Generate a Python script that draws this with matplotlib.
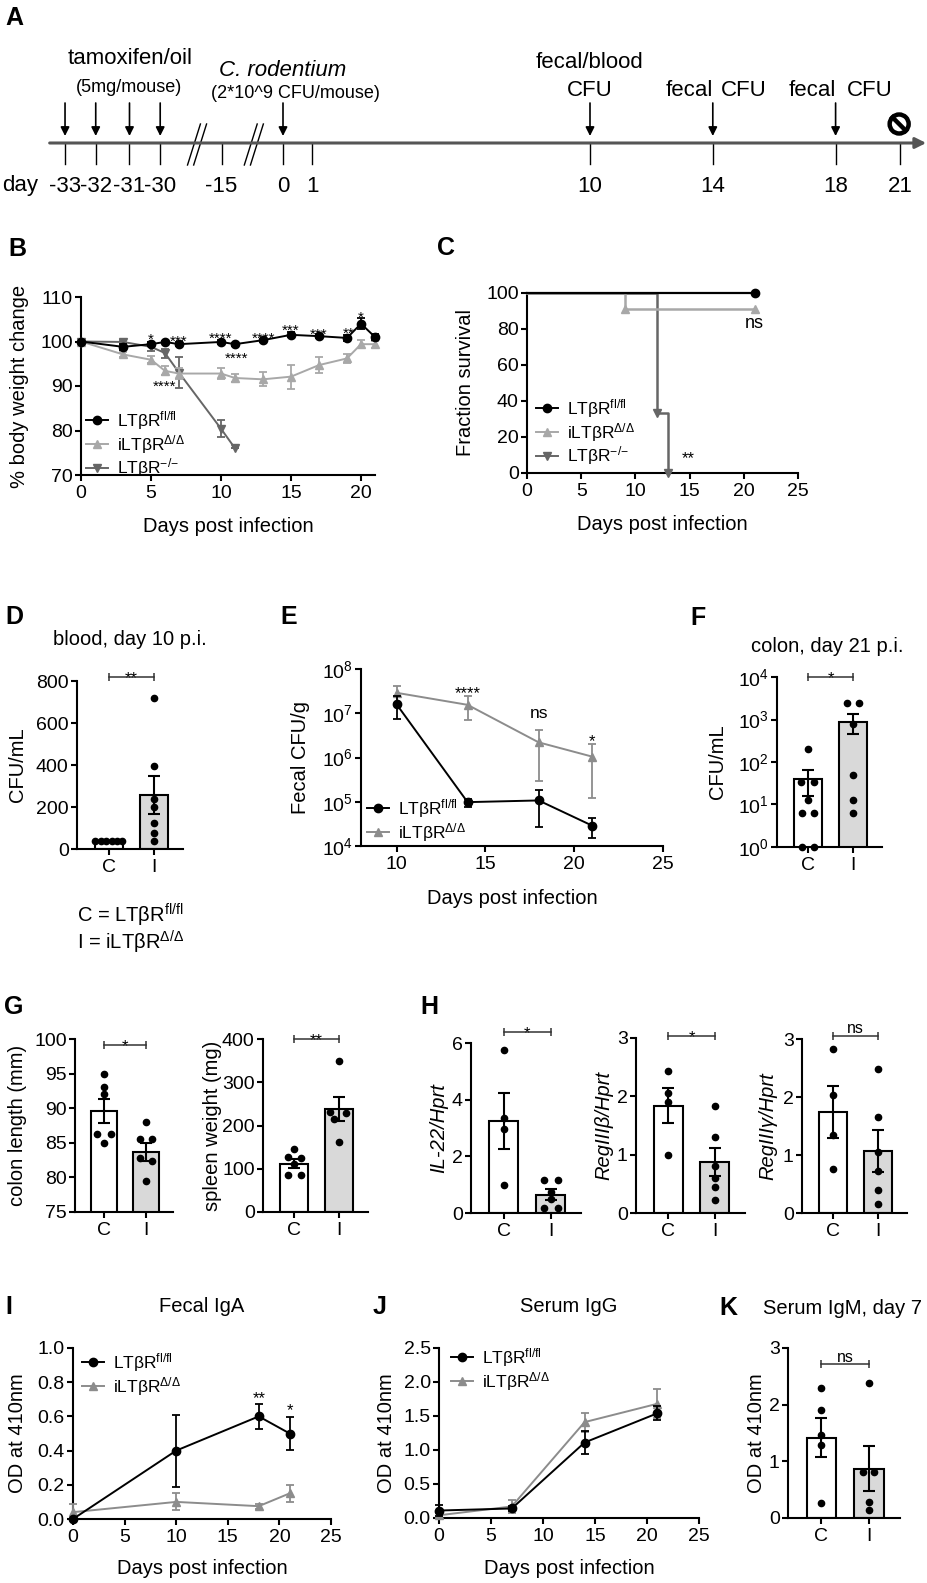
import numpy as np
import matplotlib
matplotlib.use('Agg')
import matplotlib.pyplot as plt
from matplotlib.lines import Line2D
from matplotlib.patches import Ellipse
from matplotlib.ticker import FixedLocator, NullLocator, FormatStrFormatter, FixedFormatter

plt.rcParams['font.family'] = ['Liberation Sans', 'DejaVu Sans']
plt.rcParams['mathtext.fontset'] = 'custom'
plt.rcParams['mathtext.rm'] = 'Liberation Sans'
plt.rcParams['mathtext.it'] = 'Liberation Sans:italic'
plt.rcParams['mathtext.bf'] = 'Liberation Sans:bold'
plt.rcParams['mathtext.sf'] = 'Liberation Sans'
plt.rcParams['axes.linewidth'] = 1.5
plt.rcParams['xtick.major.width'] = 1.5
plt.rcParams['ytick.major.width'] = 1.5
plt.rcParams['xtick.major.size'] = 4
plt.rcParams['ytick.major.size'] = 4
plt.rcParams['xtick.labelsize'] = 14
plt.rcParams['ytick.labelsize'] = 14
plt.rcParams['xtick.major.pad'] = 3
plt.rcParams['ytick.major.pad'] = 2

# ======================= DATA =======================
LAB_FL = 'LTβR$^{\\mathrm{fl/fl}}$'
LAB_I = 'iLTβR$^{\\Delta/\\Delta}$'
LAB_KO = 'LTβR$^{{-}/{-}}$'

# A: timeline
tl_labels = ['-33', '-32', '-31', '-30', '-15', '0', '1', '10', '14', '18', '21']
arrow_labels = ['-33', '-32', '-31', '-30', '0', '10', '14', '18']

# B: body weight (% of day 0)
days_B = [0, 3, 5, 6, 7, 10, 11, 13, 15, 17, 19, 20, 21]
bw_fl = [100, 98.8, 99.4, 99.9, 99.4, 99.9, 99.4, 100.3, 101.5, 101.2, 100.8, 104.0, 101.0]
bw_fl_sem = [0, 0.6, 0.4, 0.3, 0.4, 0.5, 0.3, 0.3, 0.6, 0.4, 0.7, 1.2, 0.7]
bw_i = [100, 97.1, 95.9, 93.4, 92.8, 92.8, 91.8, 91.5, 92.1, 94.7, 96.2, 99.4, 99.4]
bw_i_sem = [0, 0.5, 0.8, 1.0, 1.2, 1.3, 0.9, 1.6, 2.7, 1.8, 1.1, 0.9, 0.8]
days_B_ko = [0, 3, 5, 6, 7, 10, 11]
bw_ko = [100, 99.9, 98.8, 97.4, 93.0, 80.4, 76.0]
bw_ko_sem = [0, 0.5, 1.0, 1.0, 3.5, 1.9, 0]
stars_B_x = [5, 7, 10, 11.1, 6.0, 13.05, 15, 17, 19.1, 20]
stars_B_y = [101.4, 101.0, 101.8, 97.1, 90.9, 101.8, 103.4, 102.7, 102.9, 106.4]
stars_B_t = ['*', '***', '****', '****', '****', '****', '***', '***', '**', '*']

# C: survival
surv_t_fl = [0, 21]
surv_fl = [100, 100]
surv_t_i = [0, 9, 21]
surv_i = [100, 90.9, 90.9]
surv_t_ko = [0, 12, 13]
surv_ko = [100, 33.3, 0]

# D: blood CFU day 10
blood_mean = [40, 256]
blood_sem = [0, 90]
blood_C = [38, 38, 38, 38, 38, 38]
blood_I = [718, 397, 240, 200, 122, 78, 39]

# E: fecal CFU
days_E = [10, 14, 18, 21]
cfu_fl = [1.6e7, 9.8e4, 1.07e5, 2.9e4]
cfu_fl_sem = [0.85e7, 0.2e5, 0.8e5, 1.4e4]
cfu_i = [2.9e7, 1.55e7, 2.2e6, 1.05e6]
cfu_i_sem = [1.2e7, 0.85e7, 1.9e6, 0.93e6]
stars_E_x = [14, 18, 21]
stars_E_y = [3.7e7, 1.0e7, 3.0e6]
stars_E_t = ['****', 'ns', '*']

# F: colon CFU day 21
colon_mean = [40, 890]
colon_sem = [24, 430]
colon_C = [205, 33, 33, 12.6, 6.2, 6.2, 1, 1]
colon_I = [2500, 2400, 800, 50, 12.6, 6.3]

# G
clen_mean = [89.6, 83.6]
clen_sem = [1.8, 1.3]
clen_C = [95, 93, 92, 86.3, 86.3, 85]
clen_I = [88, 85.5, 85.5, 82.8, 82.3, 79.5]
spl_mean = [112, 238]
spl_sem = [10, 27]
spl_C = [145, 127, 124, 112, 85, 85]
spl_I = [350, 232, 230, 215, 163]

# H
il22_mean = [3.24, 0.65]
il22_sem = [0.98, 0.2]
il22_C = [5.76, 3.35, 2.98, 1.0]
il22_I = [1.15, 1.15, 0.75, 0.5, 0.18, 0.18]
regb_mean = [1.84, 0.87]
regb_sem = [0.3, 0.24]
regb_C = [2.43, 2.06, 1.91, 1.0]
regb_I = [1.83, 1.31, 0.81, 0.6, 0.45, 0.23]
regg_mean = [1.74, 1.07]
regg_sem = [0.45, 0.36]
regg_C = [2.83, 2.03, 1.34, 0.76]
regg_I = [2.49, 1.65, 1.05, 0.72, 0.40, 0.16]

# I: fecal IgA
days_I = [0, 10, 18, 21]
iga_fl = [0.0, 0.40, 0.60, 0.50]
iga_fl_sem = [0, 0.21, 0.075, 0.097]
iga_i = [0.04, 0.10, 0.075, 0.15]
iga_i_sem = [0.05, 0.05, 0.015, 0.05]

# J: serum IgG
days_J = [0, 7, 14, 21]
igg_fl = [0.11, 0.14, 1.11, 1.54]
igg_fl_sem = [0.08, 0.04, 0.17, 0.10]
igg_i = [0.04, 0.17, 1.41, 1.68]
igg_i_sem = [0.04, 0.10, 0.14, 0.21]

# K: serum IgM day 7
igm_mean = [1.42, 0.87]
igm_sem = [0.35, 0.40]
igm_C = [2.29, 1.90, 1.46, 1.29, 0.27]
igm_I = [2.39, 0.82, 0.82, 0.28, 0.15]

# ======================= LAYOUT / STYLE =======================
W, H = 927, 1583
fig = plt.figure(figsize=(W / 100, H / 100), dpi=100)
BLACK = '#000000'
LGREY = '#a8a8a8'
DGREY = '#666666'
MGREY = '#8c8c8c'
BARGREY = '#d9d9d9'
FS_LAB = 14.5
FS_LEG = 12.5


def fx(x):
    return x / W


def fy(y):
    return 1 - y / H


def axes_px(l, r, t, b):
    ax = fig.add_axes([l / W, 1 - b / H, (r - l) / W, (b - t) / H])
    ax.spines['top'].set_visible(False)
    ax.spines['right'].set_visible(False)
    return ax


def letter(x, y, s):
    fig.text(fx(x), fy(y), s, fontsize=18, fontweight='bold', ha='center', va='center')


def ylab(x, ax, s, **kw):
    bb = ax.get_position()
    fig.text(fx(x), (bb.y0 + bb.y1) / 2, s, rotation=90, ha='center', va='center', fontsize=FS_LAB, **kw)


def xlab(y, ax, s):
    bb = ax.get_position()
    fig.text((bb.x0 + bb.x1) / 2, fy(y), s, ha='center', va='center', fontsize=FS_LAB)


def star(ax, x, y, s, fs=11.5):
    off = -0.58 * fs if s.startswith('*') else -0.27 * fs
    ax.annotate(s, xy=(x, y), xytext=(0, off), textcoords='offset points',
                ha='center', va='baseline', fontsize=fs, annotation_clip=False)


def bracket(ax, y, s, fs=12):
    ax.plot([0, 1], [y, y], color='#333333', lw=1.1, marker='|', ms=6, mew=1.1,
            clip_on=False, zorder=5)
    off = -4.5 if s.startswith('*') else 1.5
    ax.annotate(s, xy=(0.5, y), xytext=(0, off), textcoords='offset points',
                ha='center', va='baseline', fontsize=fs, annotation_clip=False)


def legend(ax, handles, labels, x, y):
    ax.legend(handles, labels, loc='upper left', bbox_to_anchor=(fx(x), fy(y)),
              bbox_transform=fig.transFigure, frameon=False, borderpad=0,
              borderaxespad=0, handlelength=1.25, handletextpad=0.55,
              labelspacing=0.05, fontsize=FS_LEG)


def h(color, marker, ms=6):
    return Line2D([], [], color=color, marker=marker, ms=ms, lw=1.4)


def bar_panel(ax, means, sems, dotsC, dotsI, offC, offI, log=False):
    if log:
        ax.set_yscale('log')
    ax.bar([0, 1], means, width=0.62, color=['white', BARGREY], edgecolor='k',
           linewidth=1.5, zorder=1)
    ax.errorbar([0, 1], means, yerr=sems, fmt='none', ecolor='k', elinewidth=1.5,
                capsize=4.5, capthick=1.5, zorder=3)
    ax.plot(0 + np.array(offC), dotsC, 'o', color='k', ms=4.5, zorder=4, clip_on=False)
    ax.plot(1 + np.array(offI), dotsI, 'o', color='k', ms=4.5, zorder=4, clip_on=False)
    ax.set_xlim(-0.7, 1.65)
    ax.set_xticks([0, 1])
    ax.set_xticklabels(['C', 'I'])


def line_err(ax, x, y, e, color, marker, ms=6, cs=3, z=3):
    ax.errorbar(x, y, yerr=e, color=color, marker=marker, ms=ms, lw=1.4,
                elinewidth=1.3, capsize=cs, capthick=1.3, clip_on=False, zorder=z)


# ---------------- A: timeline ----------------
tl_pos = [-7.1, -6.1, -5.0, -4.0, -2.0, 0, 0.95, 10, 14, 18, 20.1]
pos_of = dict(zip(tl_labels, tl_pos))
PX = 30.7
axA = fig.add_axes([0, fy(205), 1, 205 / H])
axA.set_xlim(-283 / PX, (W - 283) / PX)
axA.set_ylim(205, 0)
axA.axis('off')
axA.annotate('', xy=(20.95, 143), xytext=(-7.6, 143),
             arrowprops=dict(arrowstyle='-|>', color='#555555', lw=2.2, mutation_scale=16,
                             shrinkA=0, shrinkB=0))
for lab in tl_labels:
    p = pos_of[lab]
    axA.plot([p, p], [143, 164], color='k', lw=1)
    axA.text(p, 186, lab, ha='center', va='center', fontsize=16)
axA.text(-8.55, 186, 'day', ha='center', va='center', fontsize=16)
for lab in arrow_labels:
    p = pos_of[lab]
    axA.annotate('', xy=(p, 136), xytext=(p, 103),
                 arrowprops=dict(arrowstyle='-|>', color='k', lw=1.2, mutation_scale=13,
                                 shrinkA=0, shrinkB=0))
for bx in [-2.8, -0.95]:
    for d in [-0.1, 0.1]:
        axA.plot([bx + d - 0.21, bx + d + 0.21], [165, 124], color='k', lw=1)
axA.add_patch(Ellipse((20.07, 124), width=19 / PX, height=19, fill=False, lw=3.2, color='k'))
axA.plot([20.07 - 6.5 / PX, 20.07 + 6.5 / PX], [117.5, 130.5], color='k', lw=3.2)
axA.text(-4.98, 58, 'tamoxifen/oil', ha='center', va='center', fontsize=16)
axA.text(-5.0, 87, '(5mg/mouse)', ha='center', va='center', fontsize=13)
axA.text(0.0, 70, 'C. rodentium', ha='center', va='center', fontsize=16, style='italic')
axA.text(0.42, 94, '(2*10^9 CFU/mouse)', ha='center', va='center', fontsize=13)
axA.text(10, 63, 'fecal/blood', ha='center', va='center', fontsize=16)
axA.text(10, 90, 'CFU', ha='center', va='center', fontsize=16)
axA.text(13.25, 90, 'fecal', ha='center', va='center', fontsize=16)
axA.text(15.0, 90, 'CFU', ha='center', va='center', fontsize=16)
axA.text(17.25, 90, 'fecal', ha='center', va='center', fontsize=16)
axA.text(19.1, 90, 'CFU', ha='center', va='center', fontsize=16)
letter(14, 18, 'A')

# ---------------- B ----------------
axB = axes_px(81, 375, 297, 475)
line_err(axB, days_B_ko, bw_ko, bw_ko_sem, DGREY, 'v', z=3)
line_err(axB, days_B, bw_i, bw_i_sem, LGREY, '^', z=4)
line_err(axB, days_B, bw_fl, bw_fl_sem, BLACK, 'o', z=5)
axB.set_xlim(0, 21)
axB.set_ylim(70, 110)
axB.set_xticks([0, 5, 10, 15, 20])
axB.set_yticks([70, 80, 90, 100, 110])
for x, y, t in zip(stars_B_x, stars_B_y, stars_B_t):
    star(axB, x, y, t, fs=11)
legend(axB, [h(BLACK, 'o'), h(LGREY, '^'), h(DGREY, 'v')], [LAB_FL, LAB_I, LAB_KO], 86, 409)
ylab(20, axB, '% body weight change')
xlab(527, axB, 'Days post infection')
letter(17, 249, 'B')

# ---------------- C ----------------
axC = axes_px(527, 798, 293, 473)
axC.step(surv_t_ko, surv_ko, where='post', color=DGREY, lw=1.8, zorder=3, clip_on=False)
axC.plot(surv_t_ko[1:], surv_ko[1:], 'v', color=DGREY, ms=6, zorder=3, clip_on=False)
axC.step(surv_t_i, surv_i, where='post', color=LGREY, lw=1.8, zorder=4, clip_on=False)
axC.plot(surv_t_i[1:], surv_i[1:], '^', color=LGREY, ms=6, zorder=4, clip_on=False)
axC.step(surv_t_fl, surv_fl, where='post', color=BLACK, lw=1.6, zorder=5, clip_on=False)
axC.plot(surv_t_fl[1:], surv_fl[1:], 'o', color=BLACK, ms=6, zorder=5, clip_on=False)
axC.set_xlim(0, 25)
axC.set_ylim(0, 100)
axC.set_xticks([0, 5, 10, 15, 20, 25])
axC.set_yticks([0, 20, 40, 60, 80, 100])
star(axC, 21, 83.3, 'ns', fs=13)
star(axC, 14.85, 11.1, '**', fs=12)
legend(axC, [h(BLACK, 'o'), h(LGREY, '^'), h(DGREY, 'v')], [LAB_FL, LAB_I, LAB_KO], 536, 397)
ylab(465, axC, 'Fraction survival')
xlab(525, axC, 'Days post infection')
letter(446, 248, 'C')

# ---------------- D ----------------
axD = axes_px(77, 183, 681, 849)
bar_panel(axD, blood_mean, blood_sem, blood_C, blood_I,
          [-0.29, -0.17, -0.05, 0.07, 0.18, 0.29], [0, 0, 0, 0, 0, 0, 0])
axD.set_ylim(0, 800)
axD.set_yticks([0, 200, 400, 600, 800])
bracket(axD, 820, '**')
ylab(18, axD, 'CFU/mL')
fig.text(fx(130), fy(640), 'blood, day 10 p.i.', ha='center', va='center', fontsize=FS_LAB)
fig.text(fx(77), fy(915), 'C = ' + LAB_FL, ha='left', va='center', fontsize=FS_LAB)
fig.text(fx(77), fy(942), 'I = ' + LAB_I, ha='left', va='center', fontsize=FS_LAB)
letter(14, 617, 'D')

# ---------------- E ----------------
axE = axes_px(361, 663, 669, 846)
axE.set_yscale('log')
line_err(axE, days_E, cfu_i, cfu_i_sem, MGREY, '^', z=3)
line_err(axE, days_E, cfu_fl, cfu_fl_sem, BLACK, 'o', z=4)
axE.set_xlim(8, 25)
axE.set_ylim(1e4, 1e8)
axE.set_xticks([10, 15, 20, 25])
axE.yaxis.set_major_locator(FixedLocator([1e4, 1e5, 1e6, 1e7, 1e8]))
axE.yaxis.set_major_formatter(FixedFormatter(['$10^{4}$', '$10^{5}$', '$10^{6}$', '$10^{7}$', '$10^{8}$']))
axE.yaxis.set_minor_locator(NullLocator())
for x, y, t in zip(stars_E_x, stars_E_y, stars_E_t):
    star(axE, x, y, t, fs=12.5 if t == 'ns' else 12)
legend(axE, [h(BLACK, 'o'), h(MGREY, '^')], [LAB_FL, LAB_I], 367, 797)
ylab(300, axE, 'Fecal CFU/g')
xlab(898, axE, 'Days post infection')
letter(289, 617, 'E')

# ---------------- F ----------------
axF = axes_px(777, 882, 677, 847)
bar_panel(axF, colon_mean, colon_sem, colon_C, colon_I,
          [0, -0.16, 0.12, 0, -0.14, 0.12, -0.14, 0.12], [-0.14, 0.13, 0, 0, 0, 0], log=True)
axF.set_ylim(1, 1e4)
axF.yaxis.set_major_locator(FixedLocator([1, 10, 100, 1e3, 1e4]))
axF.yaxis.set_major_formatter(FixedFormatter(['$10^{0}$', '$10^{1}$', '$10^{2}$', '$10^{3}$', '$10^{4}$']))
axF.yaxis.set_minor_locator(NullLocator())
bracket(axF, 1e4, '*')
ylab(717, axF, 'CFU/mL')
fig.text(fx(827), fy(647), 'colon, day 21 p.i.', ha='center', va='center', fontsize=FS_LAB)
letter(698, 618, 'F')

# ---------------- G ----------------
axG1 = axes_px(75, 173, 1039, 1212)
bar_panel(axG1, clen_mean, clen_sem, clen_C, clen_I,
          [0, 0, 0, -0.17, 0.17, 0], [0, -0.15, 0.15, -0.15, 0.15, 0])
axG1.set_ylim(75, 100)
axG1.set_yticks([75, 80, 85, 90, 95, 100])
bracket(axG1, 99.1, '*')
ylab(18, axG1, 'colon length (mm)')

axG2 = axes_px(263, 368, 1039, 1212)
bar_panel(axG2, spl_mean, spl_sem, spl_C, spl_I,
          [0, -0.15, 0.15, 0, -0.15, 0.15], [0, -0.19, 0.15, -0.11, 0])
axG2.set_ylim(0, 400)
axG2.set_yticks([0, 100, 200, 300, 400])
bracket(axG2, 400, '**')
ylab(213, axG2, 'spleen weight (mg)')
letter(14, 1007, 'G')

# ---------------- H ----------------
axH1 = axes_px(471, 581, 1043, 1213)
bar_panel(axH1, il22_mean, il22_sem, il22_C, il22_I,
          [0, 0, 0, 0], [-0.15, 0.15, 0, 0, -0.15, 0.15])
axH1.set_ylim(0, 6)
axH1.set_yticks([0, 2, 4, 6])
bracket(axH1, 6.4, '*')
ylab(439, axH1, 'IL-22/Hprt', style='italic')

axH2 = axes_px(636, 745, 1038, 1213)
bar_panel(axH2, regb_mean, regb_sem, regb_C, regb_I,
          [0, 0, 0, 0], [0, 0, 0, 0, 0, 0])
axH2.set_ylim(0, 3)
axH2.set_yticks([0, 1, 2, 3])
bracket(axH2, 3.03, '*')
ylab(604, axH2, 'RegIIIβ/Hprt', style='italic')

axH3 = axes_px(802, 907, 1039, 1213)
bar_panel(axH3, regg_mean, regg_sem, regg_C, regg_I,
          [0, 0, 0, 0], [0, 0, 0, 0, 0, 0])
axH3.set_ylim(0, 3)
axH3.set_yticks([0, 1, 2, 3])
bracket(axH3, 3.06, 'ns', fs=11.5)
ylab(768, axH3, 'RegIIIγ/Hprt', style='italic')
letter(429, 1007, 'H')

# ---------------- I ----------------
axI = axes_px(73, 331, 1348, 1519)
line_err(axI, days_I, iga_i, iga_i_sem, MGREY, '^', z=3)
line_err(axI, days_I, iga_fl, iga_fl_sem, BLACK, 'o', z=4)
axI.set_xlim(0, 25)
axI.set_ylim(0, 1.0)
axI.set_xticks([0, 5, 10, 15, 20, 25])
axI.set_yticks([0, 0.2, 0.4, 0.6, 0.8, 1.0])
axI.yaxis.set_major_formatter(FormatStrFormatter('%.1f'))
star(axI, 18, 0.734, '**', fs=12)
star(axI, 21, 0.666, '*', fs=12)
legend(axI, [h(BLACK, 'o'), h(MGREY, '^')], [LAB_FL, LAB_I], 82, 1351)
ylab(18, axI, 'OD at 410nm')
xlab(1569, axI, 'Days post infection')
fig.text(fx(202), fy(1307), 'Fecal IgA', ha='center', va='center', fontsize=FS_LAB)
letter(9, 1307, 'I')

# ---------------- J ----------------
axJ = axes_px(439, 699, 1348, 1518)
line_err(axJ, days_J, igg_i, igg_i_sem, MGREY, '^', z=3)
line_err(axJ, days_J, igg_fl, igg_fl_sem, BLACK, 'o', z=4)
axJ.set_xlim(0, 25)
axJ.set_ylim(0, 2.5)
axJ.set_xticks([0, 5, 10, 15, 20, 25])
axJ.set_yticks([0, 0.5, 1.0, 1.5, 2.0, 2.5])
axJ.yaxis.set_major_formatter(FormatStrFormatter('%.1f'))
legend(axJ, [h(BLACK, 'o'), h(MGREY, '^')], [LAB_FL, LAB_I], 451, 1346)
ylab(387, axJ, 'OD at 410nm')
xlab(1569, axJ, 'Days post infection')
fig.text(fx(569), fy(1307), 'Serum IgG', ha='center', va='center', fontsize=FS_LAB)
letter(380, 1307, 'J')

# ---------------- K ----------------
axK = axes_px(788, 900, 1348, 1518)
bar_panel(axK, igm_mean, igm_sem, igm_C, igm_I,
          [0, 0, 0, 0, 0], [0, -0.12, 0.11, 0, 0])
axK.set_ylim(0, 3)
axK.set_yticks([0, 1, 2, 3])
bracket(axK, 2.72, 'ns', fs=11.5)
ylab(756, axK, 'OD at 410nm')
fig.text(fx(763), fy(1308), 'Serum IgM, day 7', ha='left', va='center', fontsize=FS_LAB)
letter(728, 1308, 'K')

fig.savefig('out.png', dpi=100)
